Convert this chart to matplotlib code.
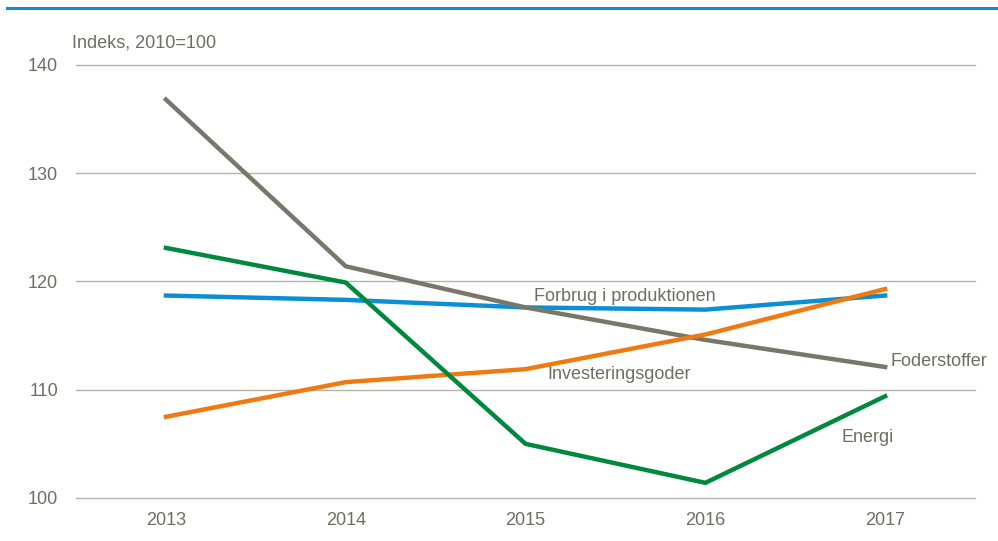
import matplotlib.pyplot as plt
from matplotlib.lines import Line2D

plt.rcParams['font.family'] = ['Liberation Sans Narrow', 'Liberation Sans', 'DejaVu Sans']

years = [2013, 2014, 2015, 2016, 2017]
foderstoffer = [136.8, 121.4, 117.6, 114.6, 112.1]
forbrug = [118.7, 118.3, 117.6, 117.4, 118.7]
investering = [107.5, 110.7, 111.9, 115.1, 119.3]
energi = [123.1, 119.9, 105.0, 101.4, 109.4]
yticks = [100, 110, 120, 130, 140]

text_col = "#6e6e62"
fs = 13

fig = plt.figure(figsize=(9.98, 5.41), dpi=100)
ax = fig.add_axes([0.0762, 0.0795, 0.9008, 0.8005])

# gridlines first so lines sit on top
for t in yticks:
    ax.axhline(t, color="#b4b4aa", linewidth=1.0, zorder=1, clip_on=False)

ax.plot(years, forbrug, color="#0a8fd6", linewidth=3.2, zorder=3)
ax.plot(years, foderstoffer, color="#77776a", linewidth=3.2, zorder=4)
ax.plot(years, investering, color="#f07a12", linewidth=3.2, zorder=5)
ax.plot(years, energi, color="#00893e", linewidth=3.2, zorder=6)

ax.set_xlim(2012.5, 2017.5)
ax.set_ylim(100, 140)
ax.set_xticks(years)
ax.set_xticklabels([str(y) for y in years])
ax.set_yticks(yticks)
ax.tick_params(length=0, labelsize=fs, colors=text_col, pad=10)
ax.tick_params(axis="y", pad=13)
for s in ax.spines.values():
    s.set_visible(False)

# line labels
ax.text(2015.55, 118.6, "Forbrug i produktionen", color=text_col, fontsize=fs, ha="center", va="center")
ax.text(2015.52, 111.4, "Investeringsgoder", color=text_col, fontsize=fs, ha="center", va="center")
ax.text(2017.03, 112.6, "Foderstoffer", color=text_col, fontsize=fs, ha="left", va="center")
ax.text(2016.9, 105.6, "Energi", color=text_col, fontsize=fs, ha="center", va="center")

fig.text(0.072, 0.92, "Indeks, 2010=100", color=text_col, fontsize=fs, ha="left", va="center")

# blue rule across the top
fig.add_artist(Line2D([0.007, 1.0], [0.985, 0.985], color="#0a8fd6", linewidth=2.2))

fig.savefig("out.png", dpi=100)
